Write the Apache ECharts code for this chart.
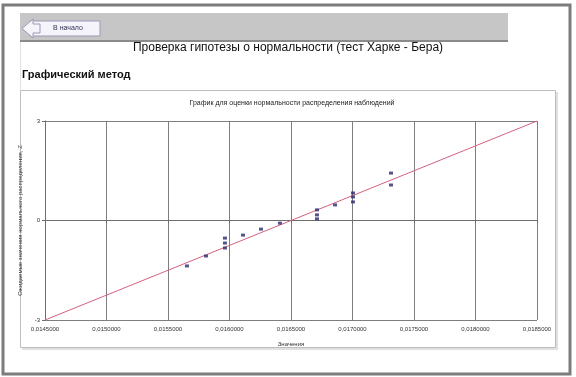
<!DOCTYPE html>
<html>
<head>
<meta charset="utf-8">
<script src="https://cdn.jsdelivr.net/npm/echarts@6/dist/echarts.min.js"></script>
<style>
  html, body { margin: 0; padding: 0; background: #ffffff; }
  #chart { width: 576px; height: 377px; }
</style>
</head>
<body>
<div id="chart"></div>
<script>
// Observed values (x) and the expected normal scores for them (y)
const obsValues = [0.015654, 0.015809, 0.015963, 0.015963, 0.015963, 0.016110, 0.016256,
                   0.016410, 0.016711, 0.016711, 0.016711, 0.016858, 0.017004, 0.017004,
                   0.017004, 0.017313, 0.017313];
const expectedZ = [-1.37, -1.07, -0.53, -0.68, -0.83, -0.44, -0.26,
                   -0.08, 0.32, 0.17, 0.05, 0.47, 0.83, 0.71,
                   0.56, 1.43, 1.07];

// Axis ranges and tick steps
const xRange = [0.0145, 0.0185];
const xStep = 0.0005;
const yRange = [-3, 3];
const yStep = 3;

// Reference line of a perfectly normal sample
const refLineX = [0.0145, 0.0185];
const refLineY = [-3, 3];

const pageTitle = 'Проверка гипотезы о нормальности (тест Харке - Бера)';
const sectionTitle = 'Графический метод';
const chartTitle = 'График для оценки нормальности распределения наблюдений';
const xName = 'Значения';
const yName = 'Ожидаемые значения нормального распределения, Z';
const backLabel = 'В начало';

const FONT = '"Liberation Sans", Arial, sans-serif';
const chart = echarts.init(document.getElementById('chart'), null, { renderer: 'canvas' });

const points = obsValues.map((v, i) => [v, expectedZ[i]]);
const refLine = refLineX.map((v, i) => [v, refLineY[i]]);

chart.setOption({
  animation: false,
  backgroundColor: '#ffffff',
  textStyle: { fontFamily: FONT },
  graphic: [
    // outer frame
    { type: 'rect', shape: { x: 3, y: 5, width: 567, height: 369 },
      style: { fill: 'none', stroke: '#7c7c7c', lineWidth: 3 }, silent: true },
    // header banner
    { type: 'rect', shape: { x: 20, y: 13, width: 488, height: 28 },
      style: { fill: '#c6c6c6' }, silent: true },
    { type: 'rect', shape: { x: 20, y: 40, width: 488, height: 2 },
      style: { fill: '#8a8a8a' }, silent: true },
    // back button
    { type: 'rect', shape: { x: 30, y: 21, width: 70, height: 15 },
      style: { fill: '#f4f4fa', stroke: '#9a9ab4', lineWidth: 1 }, silent: true },
    { type: 'polygon', shape: { points: [[22, 28.5], [33, 19], [33, 24], [40, 24], [40, 33], [33, 33], [33, 38]] },
      style: { fill: '#f4f4fa', stroke: '#9a9ab4', lineWidth: 1 }, silent: true },
    { type: 'text', x: 68, y: 28.5,
      style: { text: backLabel, fontSize: 7, fill: '#333355', align: 'center', verticalAlign: 'middle', fontFamily: FONT } },
    // left guide of the page body
    { type: 'rect', shape: { x: 20, y: 42, width: 1, height: 48 },
      style: { fill: '#e2e2e2' }, silent: true },
    // page headings
    { type: 'text', x: 288, y: 48,
      style: { text: pageTitle, fontSize: 12, fill: '#111111', align: 'center', verticalAlign: 'middle', fontFamily: FONT } },
    { type: 'text', x: 22, y: 75,
      style: { text: sectionTitle, fontSize: 11, fontWeight: 'bold', fill: '#111111', align: 'left', verticalAlign: 'middle', fontFamily: FONT } },
    // chart box
    { type: 'rect', shape: { x: 20.5, y: 90.5, width: 535, height: 257 },
      style: { fill: 'none', stroke: '#bdbdbd', lineWidth: 1 }, silent: true },
    { type: 'rect', shape: { x: 556, y: 92, width: 2, height: 257 },
      style: { fill: '#e0e0e0' }, silent: true },
    { type: 'rect', shape: { x: 22, y: 348, width: 536, height: 2 },
      style: { fill: '#e0e0e0' }, silent: true },
    { type: 'text', x: 292, y: 103,
      style: { text: chartTitle, fontSize: 7, fill: '#222222', align: 'center', verticalAlign: 'middle', fontFamily: FONT } }
  ],
  grid: { left: 45, right: 39, top: 121, bottom: 57, containLabel: false, outerBoundsMode: 'none' },
  xAxis: {
    type: 'value',
    min: xRange[0], max: xRange[1], interval: xStep,
    name: xName, nameLocation: 'middle', nameGap: 21,
    nameTextStyle: { fontSize: 6, color: '#333333', fontFamily: FONT },
    axisLine: { lineStyle: { color: '#6e6e6e', width: 1 } },
    axisTick: { show: true, length: 3, lineStyle: { color: '#6e6e6e' } },
    axisLabel: {
      fontSize: 6, color: '#333333', margin: 6, fontFamily: FONT,
      formatter: v => v.toFixed(7).replace('.', ',')
    },
    splitLine: { show: true, lineStyle: { color: '#7e7e7e', width: 1 } }
  },
  yAxis: {
    type: 'value',
    min: yRange[0], max: yRange[1], interval: yStep,
    name: yName, nameLocation: 'middle', nameGap: 12, nameRotate: 90,
    nameTextStyle: { fontSize: 6, color: '#333333', fontFamily: FONT },
    axisLine: { show: true, lineStyle: { color: '#6e6e6e', width: 1 } },
    axisTick: { show: true, length: 3, lineStyle: { color: '#6e6e6e' } },
    axisLabel: { fontSize: 6, color: '#333333', margin: 5, fontFamily: FONT },
    splitLine: { show: true, lineStyle: { color: '#7e7e7e', width: 1 } }
  },
  series: [
    {
      type: 'line',
      data: refLine,
      symbol: 'none',
      lineStyle: { color: '#d4607e', width: 1 },
      z: 3
    },
    {
      type: 'scatter',
      data: points,
      symbol: 'rect',
      symbolSize: [4, 3],
      itemStyle: { color: '#2a2a70' },
      z: 4
    }
  ]
});
</script>
</body>
</html>
